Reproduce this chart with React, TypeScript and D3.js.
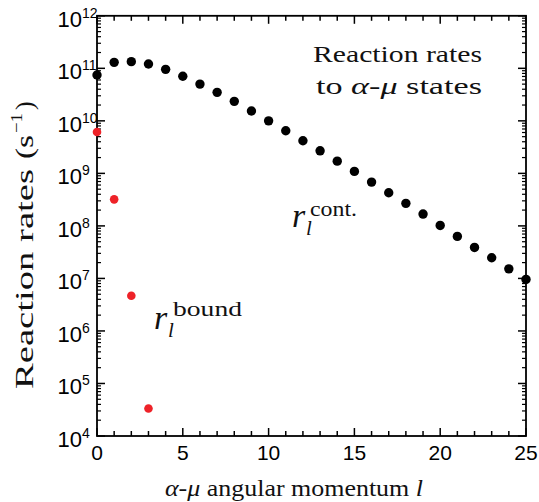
import React from "react";
import * as d3 from "d3";

const contL = d3.range(0, 26);
const contRates = [
  7.45e10, 1.3e11, 1.34e11, 1.21e11, 9.57e10, 7.05e10, 5.01e10, 3.49e10, 2.35e10, 1.54e10,
  1.0e10, 6.47e9, 4.18e9, 2.69e9, 1.71e9, 1.09e9, 6.82e8, 4.27e8, 2.69e8, 1.68e8,
  1.02e8, 6.31e7, 3.89e7, 2.47e7, 1.52e7, 9.57e6,
];
const boundL = [0, 1, 2, 3];
const boundRates = [6.12e9, 3.2e8, 4.67e6, 3.34e4];
const xTickLabels = [0, 5, 10, 15, 20, 25];
const yExponents = [4, 5, 6, 7, 8, 9, 10, 11, 12];

const W = 539, H = 502;
const L = 97, R = 526, T = 15.8, B = 436;

export default function App() {
  const x = d3.scaleLinear().domain([0, 25]).range([L, R]);
  const y = d3.scaleLog().domain([1e4, 1e12]).range([B, T]);
  const sans = "Liberation Sans, Arial, sans-serif";
  const serif = "Liberation Serif, Times New Roman, serif";

  const minorY: number[] = [];
  for (let e = 4; e < 12; e++) for (let m = 2; m <= 9; m++) minorY.push(m * Math.pow(10, e));
  const xTicks = d3.range(0, 26);
  const sf = { fontFamily: serif, fill: "#111" } as const;

  return (
    <svg width={W} height={H} style={{ position: "absolute", left: 0, top: 0, background: "#fff" }}>
      <rect x={L} y={T} width={R - L} height={B - T} fill="none" stroke="#000" strokeWidth={1.8} />
      {yExponents.map((e) => (
        <g key={"yt" + e}>
          <line x1={L} x2={L + 8} y1={y(Math.pow(10, e))} y2={y(Math.pow(10, e))} stroke="#000" strokeWidth={1.5} />
          <line x1={R} x2={R - 8} y1={y(Math.pow(10, e))} y2={y(Math.pow(10, e))} stroke="#000" strokeWidth={1.5} />
        </g>
      ))}
      {minorY.map((v, i) => (
        <g key={"ym" + i}>
          <line x1={L} x2={L + 4} y1={y(v)} y2={y(v)} stroke="#000" strokeWidth={1.2} />
          <line x1={R} x2={R - 4} y1={y(v)} y2={y(v)} stroke="#000" strokeWidth={1.2} />
        </g>
      ))}
      {xTicks.map((t) => {
        const len = t % 5 === 0 ? 8 : 5;
        return (
          <g key={"xt" + t}>
            <line x1={x(t)} x2={x(t)} y1={B} y2={B - len} stroke="#000" strokeWidth={1.5} />
            <line x1={x(t)} x2={x(t)} y1={T} y2={T + len} stroke="#000" strokeWidth={1.5} />
          </g>
        );
      })}
      {yExponents.map((e) => (
        <g key={"yl" + e}>
          <text x={L - 15} y={y(Math.pow(10, e)) + 11} fontSize={22} fontFamily={sans} textAnchor="end">10</text>
          <text x={L - 15} y={y(Math.pow(10, e)) + 2} fontSize={14} fontFamily={sans} textAnchor="start">{e}</text>
        </g>
      ))}
      {xTickLabels.map((t) => (
        <text key={"xl" + t} x={x(t)} y={460} fontSize={21} fontFamily={sans} textAnchor="middle">{t}</text>
      ))}
      <text x={165} y={496} fontSize={23} {...sf} textLength={258} lengthAdjust="spacingAndGlyphs">
        <tspan fontStyle="italic">α</tspan>-<tspan fontStyle="italic">μ</tspan>{"  angular momentum  "}<tspan fontStyle="italic">l</tspan>
      </text>
      <g transform="translate(33,389) rotate(-90)">
        <text x={0} y={0} fontSize={25} {...sf} textLength={220} lengthAdjust="spacingAndGlyphs">Reaction rates</text>
        <text x={230} y={0} fontSize={26} {...sf} textLength={24} lengthAdjust="spacingAndGlyphs">(s</text>
        <text x={256} y={-11} fontSize={17} {...sf} textLength={20} lengthAdjust="spacingAndGlyphs">−1</text>
        <text x={279} y={0} fontSize={26} {...sf}>)</text>
      </g>
      <text x={313} y={62} fontSize={24} {...sf} textLength={169} lengthAdjust="spacingAndGlyphs">Reaction rates</text>
      <text x={316} y={94} fontSize={24} {...sf} textLength={166} lengthAdjust="spacingAndGlyphs">
        {"to "}<tspan fontStyle="italic">α</tspan>-<tspan fontStyle="italic">μ</tspan>{" states"}
      </text>
      <text x={292} y={227} fontSize={34} fontStyle="italic" {...sf}>r</text>
      <text x={306} y={235} fontSize={21} fontStyle="italic" {...sf}>l</text>
      <text x={310} y={216} fontSize={21} {...sf} textLength={47} lengthAdjust="spacingAndGlyphs">cont.</text>
      <text x={154} y={329} fontSize={34} fontStyle="italic" {...sf}>r</text>
      <text x={168} y={337} fontSize={21} fontStyle="italic" {...sf}>l</text>
      <text x={173} y={316} fontSize={22} {...sf} textLength={69} lengthAdjust="spacingAndGlyphs">bound</text>
      {contL.map((l, i) => (
        <circle key={"c" + i} cx={x(l)} cy={y(contRates[i])} r={4.7} fill="#000" />
      ))}
      {boundL.map((l, i) => (
        <circle key={"b" + i} cx={x(l)} cy={y(boundRates[i])} r={4.3} fill="#ee2228" />
      ))}
    </svg>
  );
}
